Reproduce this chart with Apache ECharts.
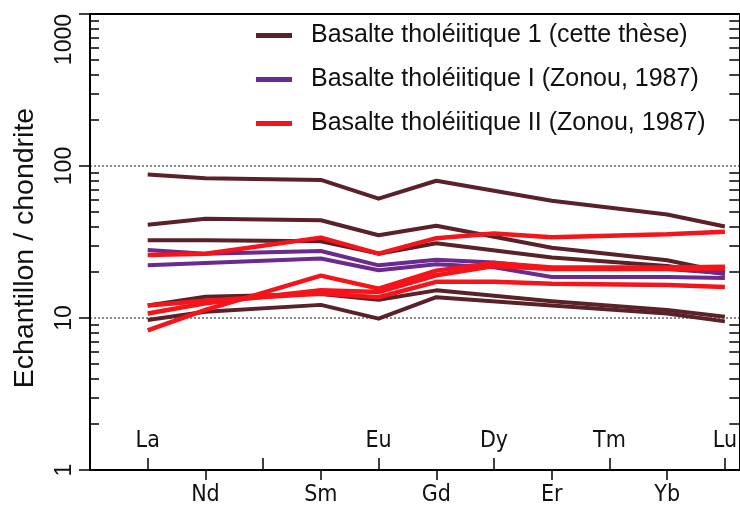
<!DOCTYPE html>
<html><head><meta charset="utf-8">
<script src="https://cdn.jsdelivr.net/npm/echarts@6/dist/echarts.min.js"></script>
<style>html,body{margin:0;padding:0;background:#fff}#c{width:740px;height:510px}</style>
</head><body><div id="c"></div>
<script>
// Element positions along the x axis (1 = La ... 11 = Lu)
const tickLabels = ['', 'La', 'Nd', '', 'Sm', 'Eu', 'Gd', 'Dy', 'Er', 'Tm', 'Yb', 'Lu'];
const upTicks = [1, 3, 5, 7, 9, 11];
const downTicks = [2, 4, 6, 8, 10];
const yMinorTicks = [2,3,4,5,6,7,8,9,20,30,40,50,60,70,80,90,200,300,400,500,600,700,800,900];

const groupNames = [
  'Basalte tholéiitique 1 (cette thèse)',
  'Basalte tholéiitique I (Zonou, 1987)',
  'Basalte tholéiitique II (Zonou, 1987)'
];
const groupColors = ['#5a2228', '#6a2a8e', '#f5141a'];

// La, Nd, Sm, Eu, Gd, Er, Yb, Lu
const thisStudyPos = [1, 2, 4, 5, 6, 8, 10, 11];
const thisStudy1 = [88, 83, 81, 61, 80, 59, 48, 40];
const thisStudy2 = [41, 45, 44, 35, 40.5, 29, 24, 20];
const thisStudy3 = [32.5, 32.5, 32, 26.5, 31, 25, 22, 19.5];
const thisStudy4 = [12.1, 13.8, 14.4, 13.2, 15.2, 12.9, 11.3, 10.2];
const thisStudy5 = [9.7, 11, 12.2, 9.9, 13.7, 12.1, 10.7, 9.5];

// La, Nd, Sm, Eu, Gd, Dy, Er, Yb, Lu
const zonouPos = [1, 2, 4, 5, 6, 7, 8, 10, 11];
const zonouI_1 = [28, 26.5, 27.6, 22.2, 24.2, 23.2, 21.2, 21, 19.7];
const zonouI_2 = [22.2, 23, 24.6, 20.6, 22.6, 21.6, 18.6, 18.6, 18.3];
const zonouII_1 = [26, 26.5, 33.8, 26.5, 33.5, 36, 34, 35.5, 37];
const zonouII_2 = [8.3, 11.3, 19, 15.6, 20.5, 23, 21.5, 21.5, 21.7];
const zonouII_3 = [10.7, 12.5, 15.2, 14.8, 19.1, 22, 21, 21, 21.2];
const zonouII_4 = [12.1, 13, 14.5, 13.7, 17.3, 17.3, 16.8, 16.5, 16];

const groups = [
  { g: 0, pos: thisStudyPos, sets: [thisStudy1, thisStudy2, thisStudy3, thisStudy4, thisStudy5], w: 4 },
  { g: 1, pos: zonouPos, sets: [zonouI_1, zonouI_2], w: 4 },
  { g: 2, pos: zonouPos, sets: [zonouII_1, zonouII_2, zonouII_3, zonouII_4], w: 4.5 }
];

const series = [];
groups.forEach(grp => {
  grp.sets.forEach(vals => {
    series.push({
      type: 'line',
      name: groupNames[grp.g],
      xAxisIndex: 0, yAxisIndex: 0,
      data: vals.map((v, i) => [grp.pos[i], v]),
      symbol: 'none', showSymbol: false, silent: true,
      color: groupColors[grp.g],
      itemStyle: { color: groupColors[grp.g] },
      lineStyle: { color: groupColors[grp.g], width: grp.w, join: 'round' },
      emphasis: { disabled: true }
    });
  });
});

const FONT = 'Liberation Sans, Arial, sans-serif';
const NARROW = 'Liberation Sans Narrow, DejaVu Sans Condensed, Arial Narrow, sans-serif';
const XMAX = 11.25;
const lab = v => tickLabels[Math.round(v)] || '';
const minorLog = yMinorTicks.map(v => Math.log10(v));

const chart = echarts.init(document.getElementById('c'), null, { renderer: 'canvas' });
chart.setOption({
  animation: false,
  backgroundColor: '#ffffff',
  grid: { left: 90, right: -5, top: 14, bottom: 40, containLabel: false },
  legend: {
    orient: 'vertical', left: 251, top: 18, itemGap: 19,
    icon: 'rect', itemWidth: 36, itemHeight: 5,
    data: groupNames,
    selectedMode: false,
    textStyle: { fontSize: 25, fontFamily: FONT, color: '#111', padding: [0, 0, 0, 14] }
  },
  xAxis: [
    { type: 'value', min: 0, max: XMAX, position: 'bottom',
      axisLine: { show: true, onZero: false, lineStyle: { color: '#000', width: 2 } },
      axisTick: { show: true, inside: true, length: 12, customValues: upTicks, lineStyle: { color: '#000', width: 1.5 } },
      axisLabel: { show: true, inside: true, customValues: upTicks, formatter: lab, margin: 17,
        fontSize: 23, fontFamily: NARROW, color: '#111' },
      splitLine: { show: false } },
    { type: 'value', min: 0, max: XMAX, position: 'bottom', offset: 0,
      axisLine: { show: true, onZero: false, lineStyle: { color: '#000', width: 2 } },
      axisTick: { show: true, inside: false, length: 10, customValues: downTicks, lineStyle: { color: '#000', width: 1.5 } },
      axisLabel: { show: true, inside: false, customValues: downTicks, formatter: lab, margin: 14,
        fontSize: 23, fontFamily: NARROW, color: '#111' },
      splitLine: { show: false } },
    { type: 'value', min: 0, max: XMAX, position: 'top',
      axisLine: { show: true, onZero: false, lineStyle: { color: '#000', width: 2 } },
      axisTick: { show: false }, axisLabel: { show: false }, splitLine: { show: false } }
  ],
  yAxis: [
    { type: 'log', logBase: 10, min: 1, max: 1000, position: 'left',
      name: 'Echantillon / chondrite', nameLocation: 'middle', nameGap: 50, nameRotate: 90,
      nameTextStyle: { fontSize: 28.5, fontFamily: FONT, color: '#111', padding: [0, 12, 0, 0] },
      axisLine: { show: true, onZero: false, lineStyle: { color: '#000', width: 2 } },
      axisTick: { show: true, inside: false, length: 11, lineStyle: { color: '#000', width: 1.5 } },
      axisLabel: { show: true, rotate: 90, margin: 14, fontSize: 23, fontFamily: FONT, color: '#111',
        formatter: v => String(Math.round(v)), alignMaxLabel: 'right' },
      minorTick: { show: false },
      splitLine: { show: true, lineStyle: { color: '#666', width: 1.5, type: [2, 2] } } },
    { type: 'value', min: 0, max: 3, position: 'left', offset: 0,
      axisLine: { show: true, onZero: false, lineStyle: { color: '#000', width: 2 } },
      axisTick: { show: true, inside: true, length: 9, customValues: minorLog, lineStyle: { color: '#000', width: 1.5 } },
      axisLabel: { show: false }, splitLine: { show: false } },
    { type: 'value', min: 0, max: 3, position: 'right', offset: 0,
      axisLine: { show: true, onZero: false, lineStyle: { color: '#000', width: 2 } },
      axisTick: { show: true, inside: true, length: 10, customValues: minorLog, lineStyle: { color: '#000', width: 1.5 } },
      axisLabel: { show: false }, splitLine: { show: false } }
  ],
  series: series
});
</script>
</body></html>
